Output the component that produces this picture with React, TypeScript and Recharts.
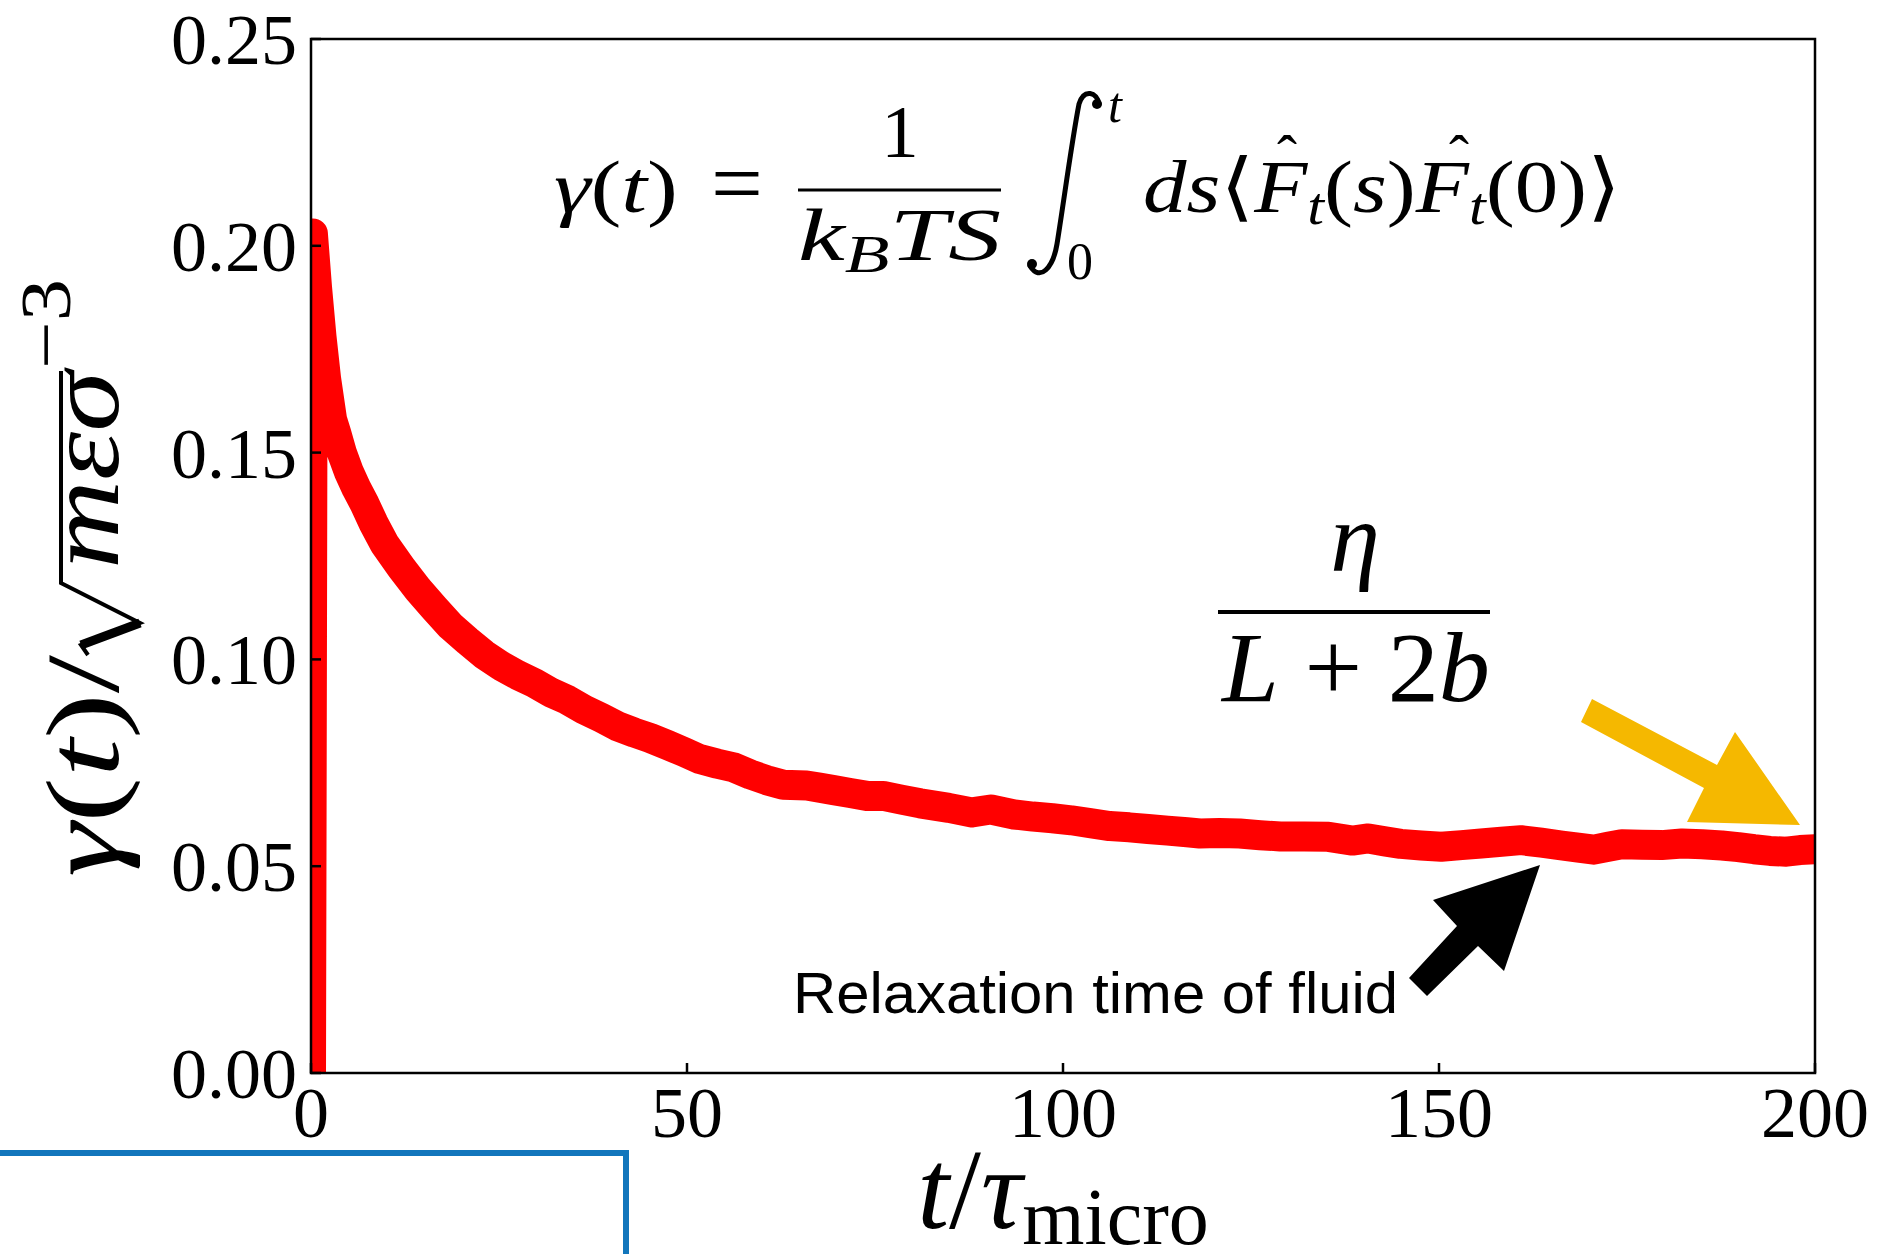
import React from 'react';
import { LineChart, Line, XAxis, YAxis } from 'recharts';

// t / tau_micro
const timeValues = [
  0, 0.25, 0.8, 1.4, 2.0, 2.8, 3.4, 4.1, 5.0, 6.0, 7.1, 8.3, 9.75, 12, 14.2, 16.4, 18.6, 20.8,
  23, 25.3, 27.5, 29.7, 31.9, 34.1, 36.3, 38.6, 40.8, 43, 45.1, 47.4, 49.6, 51.7, 54, 56.2, 58.4,
  60.6, 62.8, 65.9, 67.6, 69.5, 71.7, 73.9, 76.1, 78.5, 81, 84.8, 87.9, 90.4, 93.5, 96, 98.6,
  101.1, 103.6, 106.2, 108.8, 111.3, 113.9, 116.5, 118.2, 120.8, 123.5, 126.2, 128.9, 132.1,
  135.3, 138.5, 140.6, 142.8, 144.9, 147.6, 150.3, 153, 155.6, 158.3, 160.9, 163.6, 166.3,
  168.5, 170.6, 172.5, 174.3, 177, 179.6, 182.3, 185, 187.6, 189.8, 191.9, 194, 196.2, 198, 200,
];

// gamma(t) / sqrt(m eps) sigma^-3
const gammaValues = [
  0, 0.203, 0.19, 0.178, 0.168, 0.158, 0.1545, 0.15, 0.1455, 0.1415, 0.1377, 0.133, 0.128,
  0.1222, 0.117, 0.1124, 0.108, 0.1045, 0.1012, 0.0984, 0.0962, 0.0943, 0.092, 0.0902, 0.0879,
  0.0859, 0.0838, 0.0823, 0.081, 0.0793, 0.0776, 0.0759, 0.0748, 0.0739, 0.0722, 0.0708, 0.0697,
  0.0695, 0.069, 0.0684, 0.0677, 0.067, 0.067, 0.0661, 0.0652, 0.0641, 0.063, 0.0637, 0.0625,
  0.062, 0.0616, 0.0611, 0.0604, 0.0597, 0.0594, 0.059, 0.0586, 0.0582, 0.0579, 0.058, 0.0579,
  0.0575, 0.0572, 0.0572, 0.0571, 0.0562, 0.0567, 0.056, 0.0554, 0.055, 0.0547, 0.0551, 0.0555,
  0.0559, 0.0563, 0.0557, 0.055, 0.0545, 0.054, 0.0547, 0.0553, 0.0552, 0.0551, 0.0555, 0.0553,
  0.055, 0.0546, 0.0541, 0.0537, 0.0535, 0.0539, 0.0541,
];

const xTicks = [0, 50, 100, 150, 200];
const yTicks = [0, 0.05, 0.1, 0.15, 0.2, 0.25];

const W = 1897;
const H = 1254;
const PL = 311, PT = 39, PR = 1815, PB = 1073;

const SERIF = '"Liberation Serif", "DejaVu Serif", serif';
const SANS = '"Liberation Sans", Arial, sans-serif';

const data = timeValues.map((t, i) => ({ t, g: gammaValues[i] }));

const XTick = (p: any) => (
  <text x={p.x} y={1137} textAnchor="middle" fontFamily={SERIF} fontSize={72} fill="#000">
    {p.payload.value}
  </text>
);

const YTick = (p: any) => (
  <text x={297} y={p.y + 25} textAnchor="end" fontFamily={SERIF} fontSize={72} fill="#000">
    {Number(p.payload.value).toFixed(2)}
  </text>
);

const Overlay = () => (
  <svg width={W} height={H} style={{ position: 'absolute', left: 0, top: 0, pointerEvents: 'none' }}>
    {/* frame */}
    <rect x={PL} y={PT} width={PR - PL} height={PB - PT} fill="none" stroke="#000" strokeWidth={2.5} />

    {/* formula */}
    <g fontFamily={SERIF} fill="#000">
      <text x={554} y={212} fontSize={75} textLength={124} lengthAdjust="spacingAndGlyphs">
        <tspan fontStyle="italic">γ</tspan>(<tspan fontStyle="italic">t</tspan>)
      </text>
      <text x={737} y={214} fontSize={92} textAnchor="middle">=</text>
      <text x={900} y={157} fontSize={75} textAnchor="middle">1</text>
      <line x1={798} x2={1001} y1={190} y2={190} stroke="#000" strokeWidth={3} />
      <text x={798} y={260} fontSize={75} textLength={203} lengthAdjust="spacingAndGlyphs" fontStyle="italic">
        k<tspan fontSize={52} dy={12}>B</tspan><tspan dy={-12}>TS</tspan>
      </text>
      {/* integral sign */}
      <path
        d="M 1099 104 C 1097 92 1084 88 1079 104 C 1072 140 1064 200 1057 244 C 1053 268 1040 282 1030 266"
        fill="none"
        stroke="#000"
        strokeWidth={5}
        strokeLinecap="round"
      />
      <circle cx={1097} cy={104} r={5} fill="#000" />
      <circle cx={1032} cy={264} r={5} fill="#000" />
      <text x={1108} y={122} fontSize={50} fontStyle="italic">t</text>
      <text x={1067} y={279} fontSize={52}>0</text>
      <text x={1143} y={212} fontSize={75} textLength={478} lengthAdjust="spacingAndGlyphs">
        <tspan fontStyle="italic">ds</tspan>⟨<tspan fontStyle="italic">F</tspan>
        <tspan fontStyle="italic" fontSize={52} dy={12}>t</tspan>
        <tspan dy={-12}>(</tspan><tspan fontStyle="italic">s</tspan>)<tspan fontStyle="italic">F</tspan>
        <tspan fontStyle="italic" fontSize={52} dy={12}>t</tspan>
        <tspan dy={-12}>(0)⟩</tspan>
      </text>
      <text x={1287} y={176} fontSize={60} textAnchor="middle">ˆ</text>
      <text x={1459} y={176} fontSize={60} textAnchor="middle">ˆ</text>

      {/* eta / (L + 2b) */}
      <text x={1355} y={571} fontSize={100} textAnchor="middle" fontStyle="italic">η</text>
      <line x1={1218} x2={1490} y1={612} y2={612} stroke="#000" strokeWidth={4} />
      <text x={1222} y={701} fontSize={100} textLength={268} lengthAdjust="spacingAndGlyphs">
        <tspan fontStyle="italic">L</tspan> + 2<tspan fontStyle="italic">b</tspan>
      </text>

      {/* y label */}
      <g transform="translate(118 577) rotate(-90)">
        <text x={-300} y={0} fontSize={103} textLength={222} lengthAdjust="spacingAndGlyphs">
          <tspan fontStyle="italic">γ</tspan>(<tspan fontStyle="italic">t</tspan>)/
        </text>
        <path d="M -78 -30 L -68 -37 L -46 22 L -6 -57 L 206 -57" fill="none" stroke="#000" strokeWidth={4} strokeLinejoin="miter" />
        <path d="M -68 -37 L -46 22" fill="none" stroke="#000" strokeWidth={9} />
        <text x={8} y={0} fontSize={103} fontStyle="italic" textLength={198} lengthAdjust="spacingAndGlyphs">mεσ</text>
        <text x={208} y={-48} fontSize={72} textLength={90} lengthAdjust="spacingAndGlyphs">−3</text>
      </g>

      {/* x label */}
      <text x={1063} y={1228} fontSize={115} textAnchor="middle">
        <tspan fontStyle="italic">t</tspan>/<tspan fontStyle="italic">τ</tspan>
        <tspan fontSize={80} dy={16}>micro</tspan>
      </text>
    </g>

    {/* arrows */}
    <polygon points="1592,699 1717,765 1735,732 1800,825 1687,822 1704,788 1581,722" fill="#F5B800" />
    <polygon points="1540,865 1504,971 1478,946 1427,996 1409,978 1457,926 1433,900" fill="#000" />
    <text x={793} y={1013} fontFamily={SANS} fontSize={58} textLength={605} lengthAdjust="spacingAndGlyphs" fill="#000">
      Relaxation time of fluid
    </text>

    {/* neighbouring panel border */}
    <polyline points="0,1153 626,1153 626,1260" fill="none" stroke="#1276BC" strokeWidth={6} />
  </svg>
);

export default function App() {
  return (
    <div style={{ position: 'absolute', left: 0, top: 0, width: W, height: H, background: '#fff' }}>
      <LineChart width={W} height={H} data={data} margin={{ top: PT, right: W - PR, bottom: H - PB - 1, left: PL - 1 }}>
        <Line
          type="linear"
          dataKey="g"
          stroke="#FF0000"
          strokeWidth={30}
          strokeLinejoin="round"
          strokeLinecap="butt"
          dot={false}
          activeDot={false}
          isAnimationActive={false}
        />
        <XAxis
          type="number"
          dataKey="t"
          domain={[0, 200]}
          ticks={xTicks}
          interval={0}
          allowDataOverflow
          height={1}
          axisLine={false}
          tickSize={-10}
          tickLine={{ stroke: '#000', strokeWidth: 2.5 }}
          tick={XTick}
        />
        <YAxis
          type="number"
          domain={[0, 0.25]}
          ticks={yTicks}
          interval={0}
          allowDataOverflow
          width={1}
          axisLine={false}
          tickSize={-10}
          tickLine={{ stroke: '#000', strokeWidth: 2.5 }}
          tick={YTick}
        />
      </LineChart>
      <Overlay />
    </div>
  );
}
